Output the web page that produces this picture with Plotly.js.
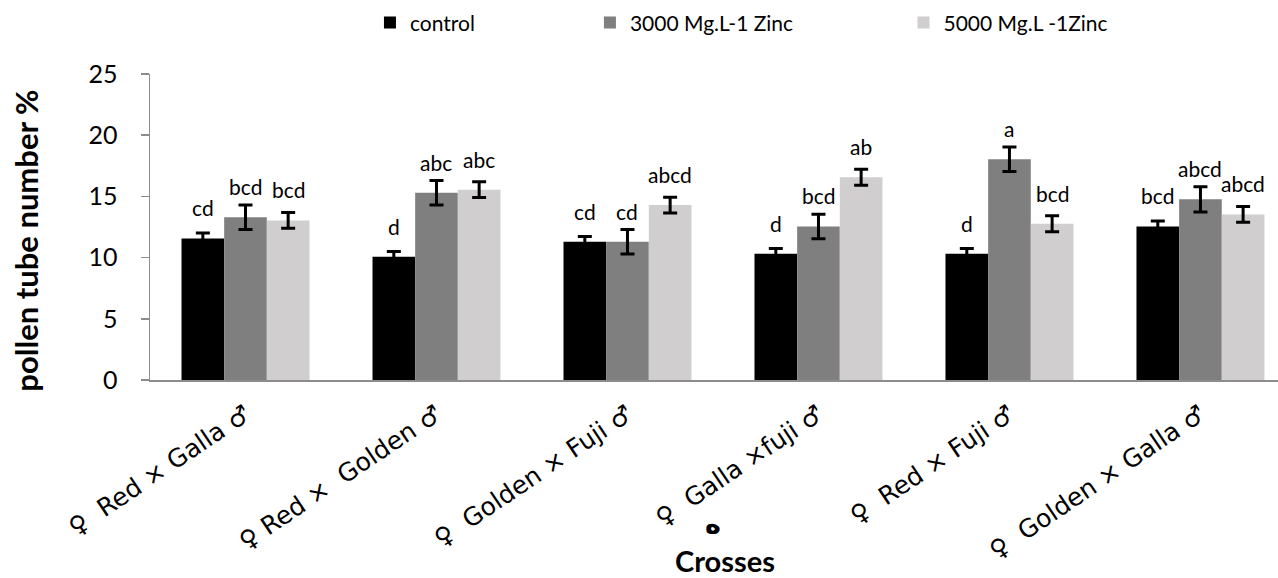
<!DOCTYPE html>
<html>
<head>
<meta charset="utf-8">
<script src="https://cdn.plot.ly/plotly-3.0.1.min.js"></script>
<style>html,body{margin:0;padding:0;background:#fff;}#chart{width:1278px;height:578px;}</style>
</head>
<body>
<div id="chart"></div>
<script>
const categories = [
  "\u2640\u00a0\u00a0Red \u00d7 Galla \u2642",
  "\u2640 Red \u00d7\u00a0\u00a0Golden \u2642",
  "\u2640\u00a0\u00a0Golden \u00d7 Fuji \u2642",
  "\u2640\u00a0\u00a0Galla \u00d7fuji \u2642",
  "\u2640\u00a0\u00a0Red \u00d7 Fuji \u2642",
  "\u2640\u00a0\u00a0Golden \u00d7 Galla \u2642"
];
const seriesNames = ["control", "3000 Mg.L-1 Zinc", "5000 Mg.L -1Zinc"];
const controlValues = [11.57, 10.07, 11.3, 10.32, 10.32, 12.55];
const zinc3000Values = [13.29, 15.3, 11.3, 12.55, 18.03, 14.76];
const zinc5000Values = [13.04, 15.55, 14.29, 16.56, 12.77, 13.53];
const controlErrors = [0.43, 0.43, 0.43, 0.43, 0.43, 0.43];
const zinc3000Errors = [1.0, 1.0, 1.0, 1.0, 1.0, 1.03];
const zinc5000Errors = [0.65, 0.65, 0.65, 0.65, 0.65, 0.64];
const controlLetters = ["cd", "d", "cd", "d", "d", "bcd"];
const zinc3000Letters = ["bcd", "abc", "cd", "bcd", "a", "abcd"];
const zinc5000Letters = ["bcd", "abc", "abcd", "ab", "bcd", "abcd"];
const yTicks = [0, 5, 10, 15, 20, 25];

const colors = ["#000000", "#7f7f7f", "#d0cece"];
const values = [controlValues, zinc3000Values, zinc5000Values];
const errors = [controlErrors, zinc3000Errors, zinc5000Errors];
const letters = [controlLetters, zinc3000Letters, zinc5000Letters];
const legendIds = ["legend", "legend2", "legend3"];

const calibri = "Lato, 'Open Sans', sans-serif";
const bargap = 0.33;
const barWidthCat = (1 - bargap) / 3;

const traces = values.map((v, s) => ({
  type: "bar",
  name: seriesNames[s],
  x: categories,
  y: v,
  marker: {color: colors[s], line: {width: 0}},
  error_y: {type: "data", array: errors[s], visible: true, color: "#000000", thickness: 3, width: 7},
  legend: legendIds[s],
  hoverinfo: "y"
}));

const annotations = [];
letters.forEach((arr, s) => {
  arr.forEach((lab, i) => {
    annotations.push({
      x: i + (s - 1) * barWidthCat,
      y: values[s][i],
      xref: "x", yref: "y",
      text: lab,
      showarrow: false,
      yanchor: "bottom",
      yshift: 16,
      font: {family: calibri, size: 21, color: "#000"}
    });
  });
});
annotations.push({
  xref: "paper", yref: "paper", x: 0.51, y: -0.59,
  text: "<b>Crosses</b>", showarrow: false, yanchor: "middle", xanchor: "center",
  font: {family: calibri, size: 29, color: "#000"}
});
annotations.push({
  xref: "paper", yref: "paper", x: -0.11, y: 0.455,
  text: "<b>pollen tube number %</b>", showarrow: false, textangle: -90,
  xanchor: "center", yanchor: "middle",
  font: {family: calibri, size: 31, color: "#000"}
});
annotations.push({
  xref: "paper", yref: "paper", x: 0.499, y: -0.47,
  text: "<b>\u0647</b>", showarrow: false, xanchor: "center", yanchor: "middle",
  font: {family: "DejaVu Sans", size: 27, color: "#000"}
});

const legendBase = {
  orientation: "h", yanchor: "middle", xanchor: "left", y: 1.167,
  font: {family: calibri, size: 21, color: "#000"},
  bgcolor: "rgba(0,0,0,0)", borderwidth: 0
};

const layout = {
  width: 1278, height: 578,
  margin: {l: 150, r: 0, t: 74, b: 198},
  paper_bgcolor: "#ffffff", plot_bgcolor: "#ffffff",
  barmode: "group", bargap: bargap, bargroupgap: 0,
  showlegend: true,
  legend: Object.assign({}, legendBase, {x: 0.195}),
  legend2: Object.assign({}, legendBase, {x: 0.39}),
  legend3: Object.assign({}, legendBase, {x: 0.668}),
  xaxis: {
    type: "category",
    range: [-0.5, 5.406],
    showline: true, linecolor: "#8c8c8c", linewidth: 2,
    ticks: "", showgrid: false, zeroline: false,
    tickangle: -34,
    ticklabelstandoff: 8,
    tickfont: {family: "'DejaVu Sans', sans-serif", size: 25, color: "#000"}
  },
  yaxis: {
    range: [0, 25],
    tickvals: yTicks,
    ticktext: yTicks.map(String),
    showline: true, linecolor: "#8c8c8c", linewidth: 1.5,
    ticks: "outside", ticklen: 8, tickcolor: "#8c8c8c", tickwidth: 1.5,
    showgrid: false, zeroline: false,
    ticklabelstandoff: 18,
    tickfont: {family: calibri, size: 25, color: "#000"}
  },
  annotations: annotations
};

Plotly.newPlot("chart", traces, layout, {staticPlot: true, displayModeBar: false});
</script>
</body>
</html>
